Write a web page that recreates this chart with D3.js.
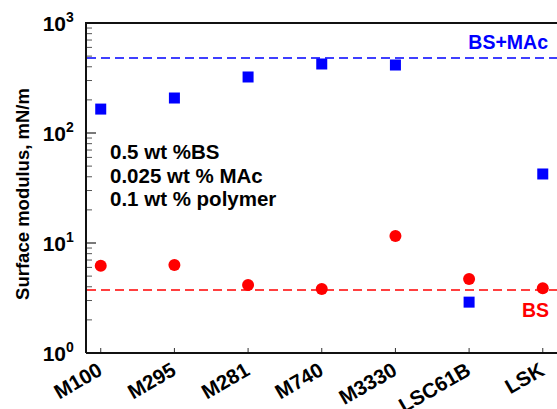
<!DOCTYPE html>
<html>
<head>
<meta charset="utf-8">
<script src="https://cdn.jsdelivr.net/npm/d3@7"></script>
<style>
  body { margin: 0; background: #fff; }
  text { font-family: "Liberation Sans", Arial, sans-serif; font-weight: bold; }
</style>
</head>
<body>
<svg id="chart" width="557" height="409"></svg>
<script>
var polymers = ["M100", "M295", "M281", "M740", "M3330", "LSC61B", "LSK"];
var bsMacPolymer = [165, 208, 323, 424, 415, 2.9, 42.4];
var bsPolymer = [6.2, 6.3, 4.15, 3.82, 11.6, 4.7, 3.87];
var bsMacLevel = 481;
var bsLevel = 3.74;
var yTickPowers = [0, 1, 2, 3];
var noteLines = ["0.5 wt %BS", "0.025 wt % MAc", "0.1 wt % polymer"];

var svg = d3.select("#chart");
var plotLeft = 86, plotTop = 23, plotRight = 557.5, plotBottom = 353;

var x = d3.scaleLinear().domain([-0.2, 6.2]).range([plotLeft, plotRight]);
var y = d3.scaleLog().domain([1, 1000]).range([plotBottom, plotTop]);

// minor + major y ticks (inward)
var minor = [];
for (var p = 0; p < 3; p++) {
    for (var m = 2; m <= 9; m++) minor.push(m * Math.pow(10, p));
}
svg.append("g").selectAll("line.minor")
    .data(minor)
    .enter().append("line")
    .attr("x1", plotLeft).attr("x2", plotLeft + 6)
    .attr("y1", function (d) { return y(d); })
    .attr("y2", function (d) { return y(d); })
    .attr("stroke", "#555").attr("stroke-width", 1);

svg.append("g").selectAll("line.major")
    .data(yTickPowers)
    .enter().append("line")
    .attr("x1", plotLeft).attr("x2", plotLeft + 10)
    .attr("y1", function (d) { return y(Math.pow(10, d)); })
    .attr("y2", function (d) { return y(Math.pow(10, d)); })
    .attr("stroke", "#222").attr("stroke-width", 1.2);

svg.append("g").selectAll("text.ytick")
    .data(yTickPowers)
    .enter().append("text")
    .attr("x", 66)
    .attr("y", function (d) { return y(Math.pow(10, d)) + 8; })
    .attr("text-anchor", "end")
    .style("font-size", "21px")
    .text("10");
svg.append("g").selectAll("text.ysup")
    .data(yTickPowers)
    .enter().append("text")
    .attr("x", 66)
    .attr("y", function (d) { return y(Math.pow(10, d)) - 1; })
    .style("font-size", "14px")
    .text(function (d) { return d; });

// x ticks (inward)
svg.append("g").selectAll("line.xtick")
    .data(polymers)
    .enter().append("line")
    .attr("x1", function (d, i) { return x(i); })
    .attr("x2", function (d, i) { return x(i); })
    .attr("y1", plotBottom).attr("y2", plotBottom - 5)
    .attr("stroke", "#333");

svg.append("g").selectAll("text.xlab")
    .data(polymers)
    .enter().append("text")
    .attr("text-anchor", "end")
    .attr("transform", function (d, i) {
        return "translate(" + (x(i) + 3) + "," + (plotBottom + 21) + ") rotate(-30)";
    })
    .style("font-size", "20.5px")
    .text(function (d) { return d; });

// frame
svg.append("path")
    .attr("d", "M" + plotLeft + "," + plotBottom + "V" + plotTop + "H557")
    .attr("fill", "none").attr("stroke", "#111").attr("stroke-width", 2);
svg.append("line")
    .attr("x1", plotLeft).attr("x2", 557)
    .attr("y1", plotBottom).attr("y2", plotBottom)
    .attr("stroke", "#111").attr("stroke-width", 2);

// reference levels
svg.append("line")
    .attr("x1", plotLeft + 1).attr("x2", 557)
    .attr("y1", y(bsMacLevel)).attr("y2", y(bsMacLevel))
    .attr("stroke", "#0000ff").attr("stroke-width", 1.6)
    .attr("stroke-dasharray", "9,5");
svg.append("line")
    .attr("x1", plotLeft + 1).attr("x2", 557)
    .attr("y1", y(bsLevel)).attr("y2", y(bsLevel))
    .attr("stroke", "#ff0000").attr("stroke-width", 1.6)
    .attr("stroke-dasharray", "9,5");

svg.append("text")
    .attr("x", 548).attr("y", y(bsMacLevel) - 9)
    .attr("text-anchor", "end")
    .attr("fill", "#0000ff")
    .style("font-size", "19.5px")
    .text("BS+MAc");
svg.append("text")
    .attr("x", 549).attr("y", y(bsLevel) + 27)
    .attr("text-anchor", "end")
    .attr("fill", "#ff0000")
    .style("font-size", "19.5px")
    .text("BS");

// points
svg.append("g").selectAll("rect")
    .data(bsMacPolymer)
    .enter().append("rect")
    .attr("x", function (d, i) { return x(i) - 5.5; })
    .attr("y", function (d) { return y(d) - 5.5; })
    .attr("width", 11).attr("height", 11)
    .attr("fill", "#0000ff");

svg.append("g").selectAll("circle")
    .data(bsPolymer)
    .enter().append("circle")
    .attr("cx", function (d, i) { return x(i); })
    .attr("cy", function (d) { return y(d); })
    .attr("r", 6)
    .attr("fill", "#ff0000");

// note
svg.append("g").selectAll("text.note")
    .data(noteLines)
    .enter().append("text")
    .attr("x", 110)
    .attr("y", function (d, i) { return 159 + i * 23.5; })
    .style("font-size", "20.5px")
    .text(function (d) { return d; });

// y label
svg.append("text")
    .attr("transform", "translate(29," + ((plotTop + plotBottom) / 2 + 6) + ") rotate(-90)")
    .attr("text-anchor", "middle")
    .style("font-size", "18.5px")
    .text("Surface modulus, mN/m");
</script>
</body>
</html>
